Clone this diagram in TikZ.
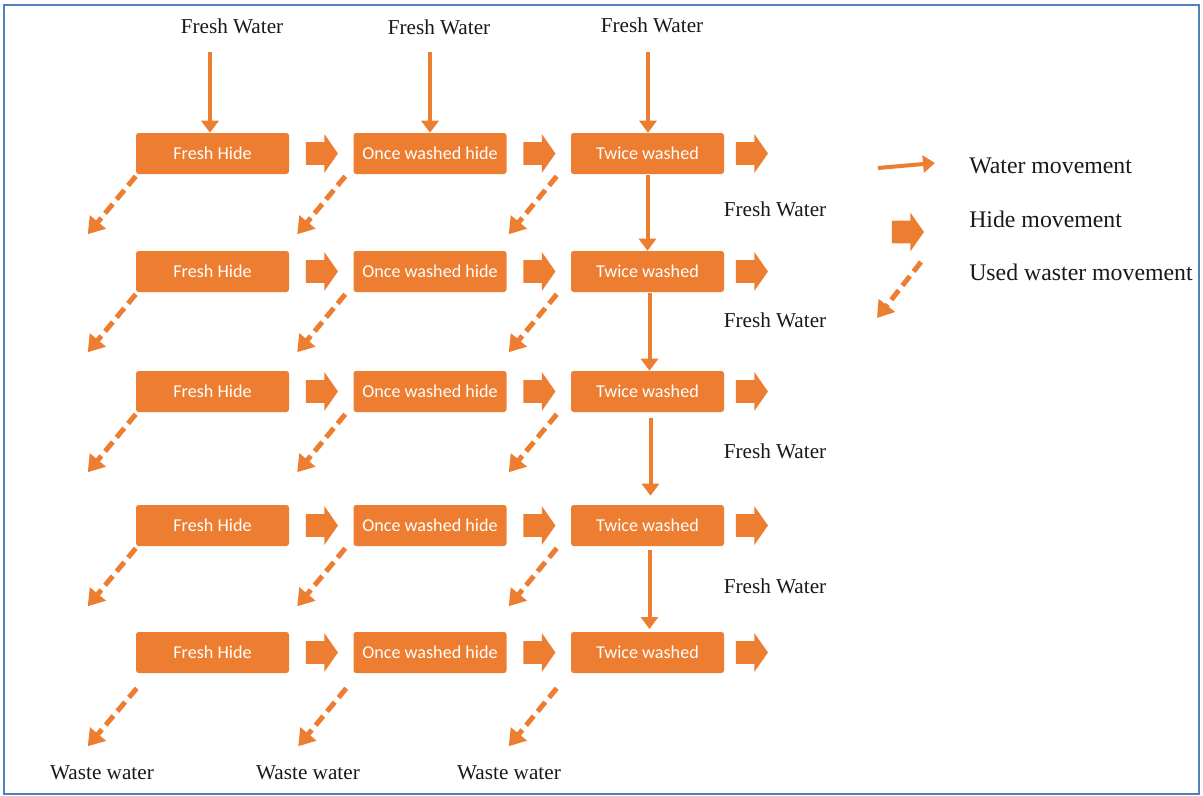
\documentclass[tikz,border=0pt]{standalone}
\usepackage{fontspec}
\setmainfont{Liberation Serif}
\newfontfamily\boxfont{Carlito}
\usetikzlibrary{arrows.meta,shapes.arrows,calc}
\definecolor{org}{HTML}{ED7D31}
\definecolor{frm}{HTML}{4F81BD}
\begin{document}
\begin{tikzpicture}[x=0.75pt,y=-0.75pt,
  stage/.style={rectangle, rounded corners=2pt, fill=org, minimum width=114.75pt, minimum height=30.75pt, inner sep=0pt, text=white, font=\boxfont\fontsize{13.6}{16}\selectfont},
  hidearrow/.style={single arrow, fill=org, draw=none, minimum height=24pt, minimum width=0pt, inner xsep=0pt, inner ysep=8.25pt, single arrow head extend=6pt, single arrow tip angle=110},
  water/.style={draw=org, line width=3pt, -{Triangle[length=9pt,width=12.75pt]}},
  used/.style={draw=org, line width=3.75pt, dash pattern=on 9pt off 4.5pt, -{Triangle[length=12pt,width=15pt]}},
  lbl/.style={inner sep=0pt, text=black!90, font=\fontsize{15.9}{18}\selectfont},
  leg/.style={inner sep=0pt, anchor=west, text=black!90, font=\fontsize{17.85}{21}\selectfont}]
\useasboundingbox (0,0) rectangle (1203,796);
\fill[white] (0,0) rectangle (1203,796);
\draw[frm, line width=1.5pt] (4,5) rectangle (1199,794);

% stages and hide arrows
\foreach \r/\y in {1/153.5,2/271.5,3/391.5,4/525.5,5/652.5} {
  \node[stage] (a\r) at (212.5,\y) {Fresh Hide};
  \node[stage] (b\r) at (430,\y) {Once washed hide};
  \node[stage] (c\r) at (647.5,\y) {Twice washed};
  \node[hidearrow] (ha\r) at (318,\y) {};
  \node[hidearrow] (hb\r) at (535.5,\y) {};
  \node[hidearrow] (hc\r) at (748,\y) {};
}

% used water (dashed) arrows
\foreach \r in {1,2,3,4} {
  \coordinate (ua\r) at ($(a\r.south west)+(-48,60)$);
  \coordinate (ub\r) at ($(b\r.south west)+(-56,60)$);
  \coordinate (uc\r) at ($(c\r.south west)+(-62,60)$);
  \draw[used] ($(a\r.south west)+(0,2)$) -- (ua\r);
  \draw[used] ($(b\r.south west)+(-8,2)$) -- (ub\r);
  \draw[used] ($(c\r.south west)+(-14,2)$) -- (uc\r);
}
\coordinate (ua5) at ($(a5.south west)+(-48,73)$);
\coordinate (ub5) at ($(b5.south west)+(-55,73)$);
\coordinate (uc5) at ($(c5.south west)+(-62,73)$);
\draw[used] ($(a5.south west)+(1,15)$) -- (ua5);
\draw[used] ($(b5.south west)+(-7,15)$) -- (ub5);
\draw[used] ($(c5.south west)+(-14,15)$) -- (uc5);

% fresh water at top
\node[lbl] (fw1) at (232,26) {Fresh Water};
\node[lbl] (fw2) at (439,27) {Fresh Water};
\node[lbl] (fw3) at (652,25) {Fresh Water};
\coordinate (s1) at (210,52);
\coordinate (s2) at (430,52);
\coordinate (s3) at (648,52);
\draw[water] (s1) -- (s1 |- a1.north);
\draw[water] (s2) -- (s2 |- b1.north);
\draw[water] (s3) -- (s3 |- c1.north);

% water between twice-washed stages
\draw[water, shorten <=0.75pt] (c1.south) -- (c2.north);
\draw[water, shorten <=0.75pt] ($(c2.south)+(2,0)$) -- ($(c3.north)+(2,0)$);
\draw[water, shorten <=4.5pt, shorten >=6.75pt] ($(c3.south)+(3,0)$) -- ($(c4.north)+(3,0)$);
\draw[water, shorten <=3pt, shorten >=2pt] ($(c4.south)+(2,0)$) -- ($(c5.north)+(2,0)$);

% right labels
\node[lbl] (rw1) at (775,209) {Fresh Water};
\node[lbl] (rw2) at (775,320) {Fresh Water};
\node[lbl] (rw3) at (775,451) {Fresh Water};
\node[lbl] (rw4) at (775,586) {Fresh Water};

% bottom labels
\node[lbl] (ww1) at (102,773) {Waste water};
\node[lbl] (ww2) at (308,773) {Waste water};
\node[lbl] (ww3) at (509,773) {Waste water};

% legend
\coordinate (lw1) at (878,168);
\coordinate (lw2) at (935,163);
\draw[water] (lw1) -- (lw2);
\node[hidearrow] (lh) at (904,232) {};
\coordinate (ld1) at (921,262);
\coordinate (ld2) at (877,318);
\draw[used] (ld1) -- (ld2);
\node[leg] (lt1) at (969,166) {Water movement};
\node[leg] (lt2) at (969,219) {Hide movement};
\node[leg] (lt3) at (969,272) {Used waster movement};
\end{tikzpicture}
\end{document}
